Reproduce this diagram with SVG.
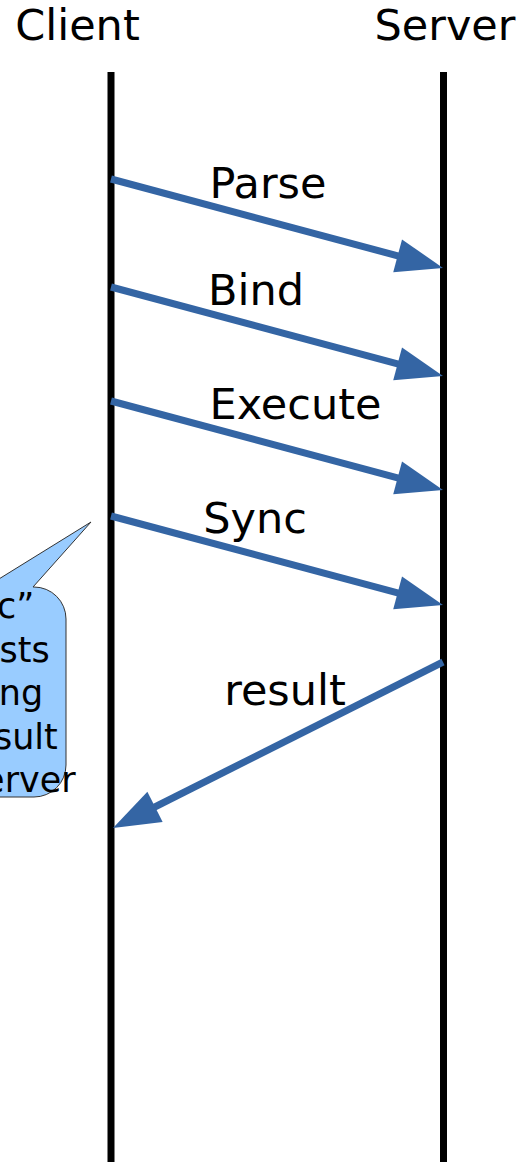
<svg xmlns="http://www.w3.org/2000/svg" width="520" height="1162" viewBox="0 0 520 1162">
  <style>
    .lifeline { stroke: #000; stroke-width: 7; fill: none; }
    .msg { stroke: #3465a4; stroke-width: 7; fill: none; marker-end: url(#head); }
    .label { font-family: "DejaVu Sans", sans-serif; font-size: 43px; fill: #000; text-anchor: middle; }
    .note { font-family: "DejaVu Sans", sans-serif; font-size: 35px; fill: #000; text-anchor: middle; }
  </style>
  <defs>
    <!-- arrowhead: tip sits 20px beyond the line end so the stroke stays hidden under it -->
    <marker id="head" markerUnits="userSpaceOnUse" markerWidth="80" markerHeight="40" viewBox="-30 -20 60 40" refX="0" refY="0" orient="auto" overflow="visible">
      <path d="M 20 0 L -27 -17 L -27 17 Z" fill="#3465a4"/>
    </marker>
  </defs>

  <rect width="520" height="1162" fill="#fff"/>

  <g id="client">
    <text class="label" x="77.5" y="40">Client</text>
    <line class="lifeline" x1="111" y1="72" x2="111" y2="1162"/>
  </g>
  <g id="server">
    <text class="label" x="445" y="40">Server</text>
    <line class="lifeline" x1="443.5" y1="72" x2="443.5" y2="1162"/>
  </g>

  <g id="connectors">
    <line class="msg" x1="111" y1="179" x2="423.7" y2="262.8"/>
    <line class="msg" x1="111" y1="287" x2="423.7" y2="370.8"/>
    <line class="msg" x1="111" y1="401" x2="423.7" y2="484.8"/>
    <line class="msg" x1="111" y1="516" x2="423.7" y2="599.8"/>
    <line class="msg" x1="443" y1="662" x2="130.9" y2="819"/>
  </g>

  <g id="labels">
    <text class="label" x="268" y="198">Parse</text>
    <text class="label" x="256" y="305">Bind</text>
    <text class="label" x="295.5" y="419">Execute</text>
    <text class="label" x="255" y="533">Sync</text>
    <text class="label" x="285" y="705">result</text>
  </g>

  <g id="sync-note">
    <path d="M -140 587 L -14 587 L 91 522 L 33 587 L 34 587 A 32 32 0 0 1 66 619 L 66 765 A 32 32 0 0 1 34 797 L -140 797 Z" fill="#99ccff" stroke="#333" stroke-width="1"/>
    <text class="note" x="-26" y="618">“Sync”</text>
    <text class="note" x="-26" y="661.5">requests</text>
    <text class="note" x="-26" y="705">sending</text>
    <text class="note" x="-26" y="748.5">the result</text>
    <text class="note" x="-26" y="792">from server</text>
  </g>
</svg>
